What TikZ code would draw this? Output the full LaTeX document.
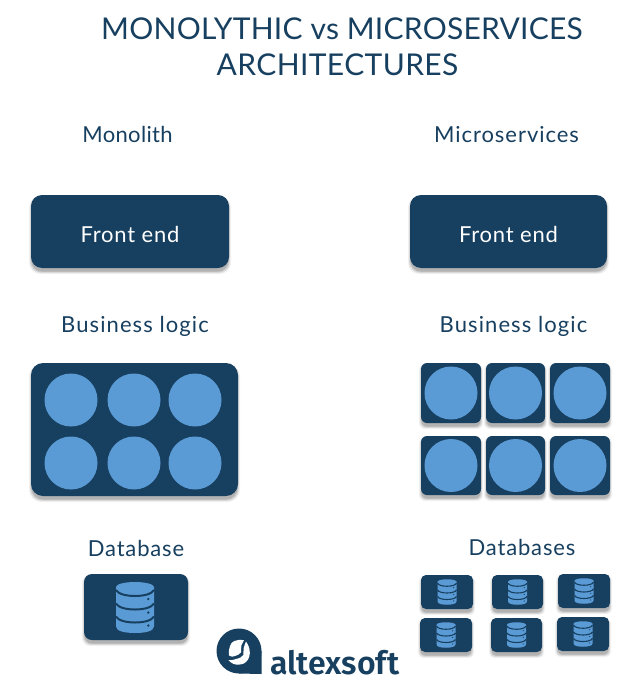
\documentclass[tikz,border=0pt]{standalone}
\usepackage{fontspec}
\setmainfont{Lato}
\newfontfamily\logofont{Fira Sans}[UprightFont=* SemiBold]
\definecolor{navy}{HTML}{173F5F}
\definecolor{sky}{HTML}{5B9BD5}
\newcommand{\shadowed}[5]{% x1 y1 x2 y2 radius
  \foreach \g/\o in {3/0.05,2.2/0.07,1.4/0.09,0.6/0.12}{
    \fill[black,opacity=\o,rounded corners=#5pt] (#1-\g+1,#2+4-\g) rectangle (#3+\g-1,#4+3+\g);
  }
}
\tikzset{
  x=1pt,y=-1pt,
  title/.style={text=navy,font=\fontsize{30}{37}\selectfont,inner sep=0pt},
  head/.style={text=navy,font=\fontsize{22}{26}\selectfont,inner sep=0pt},
  boxlabel/.style={text=white,font=\fontsize{22}{26}\selectfont,inner sep=0pt},
  panel/.style={fill=navy,draw=none,inner sep=0pt,rounded corners=#1},
  panel/.default=10pt,
  dot/.style={circle,fill=sky,draw=none,minimum size=#1,inner sep=0pt},
  dbline/.style={line width=2pt},
  dbicon/.pic={
    \fill[sky] (-19,-20.5) -- (-19,19) .. controls (-19,24) and (-9,25.5) .. (0,25.5) .. controls (9,25.5) and (19,24) .. (19,19) -- (19,-20.5) -- cycle;
    \foreach \yy in {-17.5,-4,9}{
      \draw[navy,dbline] (-19,\yy) .. controls (-15,\yy+8) and (15,\yy+8) .. (19,\yy);
    }
    \fill[sky] (0,-20.5) ellipse [x radius=19,y radius=5];
    \fill[navy] (13.3,-8.5) circle (1.3);
    \fill[navy] (13.3,5) circle (1.3);
    \fill[navy] (13.3,18) circle (1.3);
  },
}
\begin{document}
\begin{tikzpicture}
\useasboundingbox (0,0) rectangle (642,695);
\fill[white] (0,0) rectangle (642,695);

\node[title] (title1) at (342,29) {\addfontfeatures{LetterSpace=0.8}MONOLYTHIC vs MICROSERVICES};
\node[title] (title2) at (337.5,65) {\addfontfeatures{LetterSpace=1.3}ARCHITECTURES};
\node[head] (hmono) at (127.5,134.5) {\addfontfeatures{LetterSpace=1.5}Monolith};
\node[head] (hmicro) at (506.5,134.5) {\addfontfeatures{LetterSpace=4.4}Microservices};

% front end
\shadowed{31}{195}{229}{268}{11}
\node[panel=11pt,minimum width=198pt,minimum height=73pt] (fe1) at (130,231.5) {};
\node[boxlabel] (fe1t) at (130,234) {\addfontfeatures{LetterSpace=3.5}Front end};
\shadowed{410}{195}{607}{268}{11}
\node[panel=11pt,minimum width=197pt,minimum height=73pt] (fe2) at (508.5,231.5) {};
\node[boxlabel] (fe2t) at (508.5,234) {\addfontfeatures{LetterSpace=3.5}Front end};

\node[head] (bl1) at (135,326.5) {\addfontfeatures{LetterSpace=5}Business logic};
\node[head] (bl2) at (513.5,326.5) {\addfontfeatures{LetterSpace=5}Business logic};

% monolith logic
\shadowed{31}{363}{238}{496}{12}
\node[panel=12pt,minimum width=207pt,minimum height=133pt] (mono) at (134.5,429.5) {};
\foreach \n/\cx/\cy in {a/71/400,b/134/400,c/195/400,d/71/463,e/134/463,f/195/463}{
  \node[dot=53pt] (m\n) at (\cx,\cy) {};
}

% microservice logic
\foreach \n/\xa/\xb/\ya/\yb in {a/421/481/363/423,b/486/545/363/423,c/550/610/363/423,d/421/481/436/495,e/486/545/436/495,f/550/610/436/495}{
  \shadowed{\xa}{\ya}{\xb}{\yb}{6}
  \node[panel=6pt,minimum width={\xb-\xa},minimum height={\yb-\ya}] (s\n) at ({(\xa+\xb)/2},{(\ya+\yb)/2}) {};
  \node[dot=53pt] (c\n) at (s\n) {};
}

\node[head] (db1) at (136,548.5) {\addfontfeatures{LetterSpace=3.8}Database};
\node[head] (db2) at (522,547.5) {\addfontfeatures{LetterSpace=3.8}Databases};

% database
\shadowed{84}{574}{188}{640}{8}
\node[panel=8pt,minimum width=104pt,minimum height=66pt] (dbm) at (136,607) {};
\pic at (135,607.5) {dbicon};

% small databases
\begin{scope}[dbline/.style={line width=1.1pt}]
\foreach \n/\xa/\xb/\ya/\yb in {a/421/473/575/609,b/492/543/575/609,c/558/610/574/608,d/420/472/618/652,e/491/542/618/652,f/557/609/617/651}{
  \shadowed{\xa}{\ya}{\xb}{\yb}{5}
  \node[panel=5pt,minimum width={\xb-\xa},minimum height={\yb-\ya}] (q\n) at ({(\xa+\xb)/2},{(\ya+\yb)/2}) {};
  \pic[scale=0.5] at (q\n) {dbicon};
}
\end{scope}

% logo
\fill[navy] (239,651) circle (22.5);
\fill[navy] (239,660) -- (261.5,651) -- (261.5,674) -- (239,673.5) -- cycle;
\fill[white] (244,640.2) .. controls (236,639) and (231,641.5) .. (230,646) .. controls (229,649) and (228.5,652) .. (229,655.5) .. controls (231,657) and (233,657) .. (235,656) .. controls (237.5,655) and (240,654.5) .. (241,652.3) .. controls (241.7,650) and (240.5,647) .. (241.5,645) .. controls (242,643) and (243,642) .. (244,640.2) -- cycle;
\fill[white] (246,641.5) .. controls (248.5,645) and (250,649) .. (249.8,653.3) .. controls (249.5,658) and (247.5,661.5) .. (243.8,663.5) .. controls (240,665) and (236,665) .. (233.3,663.8) .. controls (231,662.8) and (229.5,661.5) .. (228.3,660) .. controls (231,660.5) and (233.5,660) .. (236,659) .. controls (239.5,658.2) and (242.5,657) .. (243.3,655) .. controls (244,652.5) and (243,650.5) .. (243.6,648.3) .. controls (244.2,646) and (245,644) .. (246,641.5) -- cycle;
\node[text=navy,inner sep=0pt,anchor=base west,font=\logofont\fontsize{32}{32}\selectfont] (logo) at (270,674) {altexsoft};
\end{tikzpicture}
\end{document}
